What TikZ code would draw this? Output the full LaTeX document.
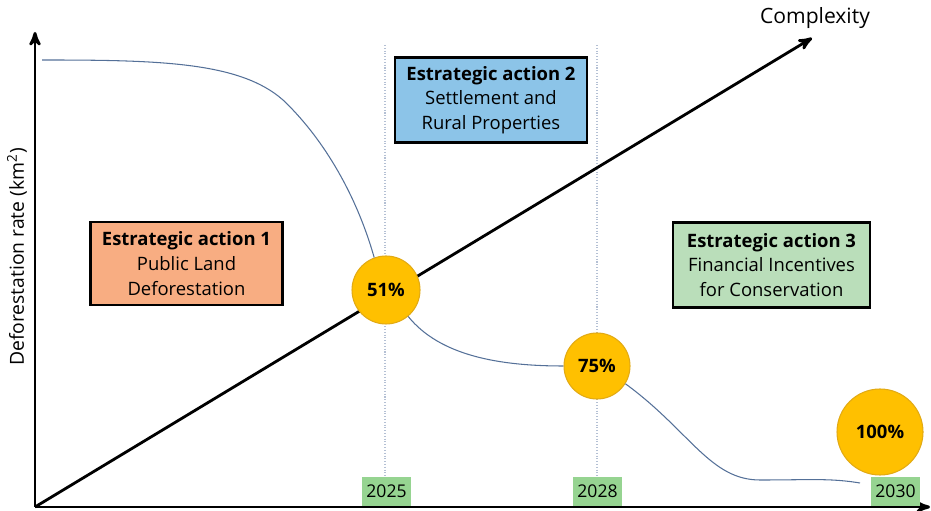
\documentclass[tikz,border=0pt]{standalone}
\usepackage{fontspec}
\setmainfont{Open Sans}
\usetikzlibrary{arrows}

\definecolor{actorange}{RGB}{248,173,130}
\definecolor{actblue}{RGB}{140,196,232}
\definecolor{actgreen}{RGB}{186,222,186}
\definecolor{yeargreen}{RGB}{150,212,145}
\definecolor{goldfill}{RGB}{255,192,0}
\definecolor{goldline}{RGB}{226,170,20}
\definecolor{ratecurve}{RGB}{84,112,152}
\definecolor{guideline}{RGB}{180,192,212}

\begin{document}
\begin{tikzpicture}[>=stealth',font=\fontsize{10.5pt}{14pt}\selectfont,
    action box/.style={rectangle,draw=black,line width=1.2pt,align=center,
      minimum width=3.84cm,minimum height=1.7cm,inner sep=2pt},
    goal node/.style={circle,fill=goldfill,draw=goldline,line width=0.6pt,
      font=\fontsize{10.5pt}{12pt}\selectfont\bfseries,inner sep=0pt},
    year node/.style={rectangle,fill=yeargreen,minimum width=0.98cm,
      minimum height=0.58cm,inner sep=0pt,font=\fontsize{10pt}{12pt}\selectfont}]

  \useasboundingbox (0,0) rectangle (18.62,10.22);

  % axes
  \coordinate (origin) at (0.7,0.08);
  \coordinate (ytop) at (0.7,9.58);
  \coordinate (xend) at (18.6,0.08);
  \coordinate (ctop) at (16.24,9.46);
  \draw[->,line width=1.6pt] (origin) -- (ytop);
  \draw[->,line width=1.6pt] (origin) -- (xend);
  \node[rotate=90,font=\fontsize{11pt}{12pt}\selectfont] (ylabel) at (0.34,5.08)
    {Deforestation rate (km\textsuperscript{2})};
  \node[font=\fontsize{12pt}{14pt}\selectfont] (clabel) at (16.3,9.86) {Complexity};

  % year guides
  \coordinate (g25top) at (7.7,9.32);
  \coordinate (g25bot) at (7.7,0.66);
  \coordinate (g28top) at (11.94,9.32);
  \coordinate (g28bot) at (11.94,0.66);
  \draw[guideline,densely dotted,line width=0.6pt] (g25top) -- (g25bot);
  \draw[guideline,densely dotted,line width=0.6pt] (g28top) -- (g28bot);

  \node[year node] (y2025) at (7.73,0.39) {2025};
  \node[year node] (y2028) at (11.95,0.39) {2028};
  \node[year node] (y2030) at (17.91,0.39) {2030};

  % complexity line
  \draw[->,line width=1.6pt] (origin) -- (ctop);

  % actions
  \node[action box,fill=actorange,minimum height=1.66cm] (act1) at (3.73,4.95)
    {\textbf{Estrategic action 1}\\Public Land\\Deforestation};
  \node[action box,fill=actblue] (act2) at (9.82,8.22)
    {\textbf{Estrategic action 2}\\Settlement and\\Rural Properties};
  \node[action box,fill=actgreen,minimum width=3.94cm] (act3) at (15.43,4.92)
    {\textbf{Estrategic action 3}\\Financial Incentives\\for Conservation};

  % goals
  \node[goal node,minimum size=1.36cm] (g51) at (7.72,4.42) {51\%};
  \node[goal node,minimum size=1.32cm] (g75) at (11.94,2.9) {75\%};
  \node[goal node,minimum size=1.72cm] (g100) at (17.6,1.58) {100\%};

  % deforestation rate
  \coordinate (rstart) at (0.84,9.02);
  \coordinate (rbend) at (5.66,8.22);
  \coordinate (rend) at (17.2,0.56);
  \draw[ratecurve,line width=0.6pt] (rstart) .. controls (3.2,9.02) and (4.8,8.98) .. (rbend)
    .. controls (6.4,7.52) and (7.1,6.42) .. (g51.110);
  \draw[ratecurve,line width=0.6pt] (g51.-50) .. controls (8.8,3.1) and (10,2.9) .. (g75.west);
  \draw[ratecurve,line width=0.6pt] (g75.-32) .. controls (13.8,1.6) and (14.2,0.62) .. (15.2,0.62)
    .. controls (16.2,0.62) and (16.6,0.66) .. (rend);

\end{tikzpicture}
\end{document}
